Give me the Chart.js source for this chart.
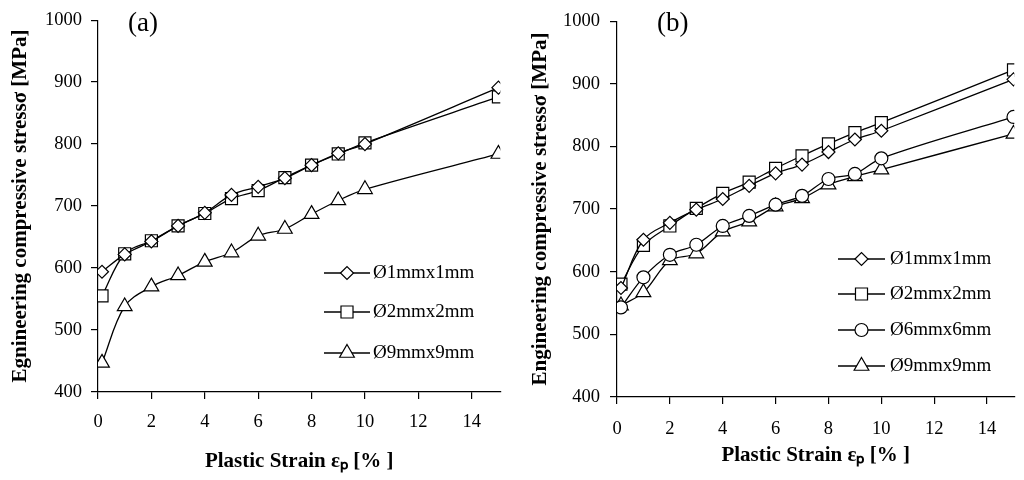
<!DOCTYPE html>
<html>
<head>
<meta charset="utf-8">
<script src="https://cdn.jsdelivr.net/npm/chart.js@4.4.1/dist/chart.umd.min.js"></script>
<style>
  html, body { margin: 0; padding: 0; background: #fff; }
  #wrap { position: relative; width: 1024px; height: 480px; overflow: hidden; }
  .panel { position: absolute; top: 0; height: 480px; }
  #panelA { left: 0; width: 510px; }
  #panelB { left: 510px; width: 514px; }
</style>
</head>
<body>
<div id="wrap">
  <div class="panel" id="panelA"><canvas id="chartA"></canvas></div>
  <div class="panel" id="panelB"><canvas id="chartB"></canvas></div>
</div>
<script>
// plastic strain (%) at which stress was measured
const strainA = [0.15, 1, 2, 3, 4, 5, 6, 7, 8, 9, 10, 15];
const strainB = [0.15, 1, 2, 3, 4, 5, 6, 7, 8, 9, 10, 15];

// (a) stress in MPa
const d1A = [594, 622, 643, 668, 689, 718, 731, 745, 766, 785, 800, 891];
const d2A = [555, 623, 644, 668, 688, 712, 725, 746, 766, 784, 802, 876];
const d9A = [447, 538, 570, 588, 610, 625, 652, 663, 687, 709, 727, 784];

// (b) stress in MPa
const d1B = [574, 651, 678, 699, 716, 737, 757, 771, 791, 811, 825, 907];
const d2B = [580, 642, 673, 701, 725, 743, 765, 785, 804, 822, 838, 922];
const d6B = [543, 591, 627, 643, 673, 689, 707, 721, 748, 756, 781, 847];
const d9B = [546, 567, 618, 629, 664, 680, 704, 717, 739, 752, 763, 820];

const namesA = ['Ø1mmx1mm', 'Ø2mmx2mm', 'Ø9mmx9mm'];
const namesB = ['Ø1mmx1mm', 'Ø2mmx2mm', 'Ø6mmx6mm', 'Ø9mmx9mm'];

const serif = '"Liberation Serif", "Times New Roman", serif';

function series(xs, ys, label, style, radius) {
  return {
    label,
    data: xs.map((x, i) => ({x, y: ys[i]})),
    borderColor: '#000',
    borderWidth: 1.3,
    backgroundColor: '#fff',
    pointStyle: style,
    pointRadius: radius,
    pointBackgroundColor: '#fff',
    pointBorderColor: '#000',
    pointBorderWidth: 1.2,
    tension: 0.35,
  };
}

// panel tag "(a)"/"(b)" and the in-plot legend (line through marker)
const panelDecor = {
  id: 'panelDecor',
  afterDatasetsDraw(chart, args, opts) {
    const ctx = chart.ctx;
    ctx.save();
    ctx.fillStyle = '#000';
    ctx.textBaseline = 'alphabetic';
    ctx.font = '27px ' + serif;
    ctx.fillText(opts.tag, opts.tagX, opts.tagY);
    chart.data.datasets.forEach((ds, i) => {
      const y = opts.rows[i];
      ctx.strokeStyle = '#000';
      ctx.lineWidth = ds.borderWidth;
      ctx.beginPath();
      ctx.moveTo(opts.lineX0, y);
      ctx.lineTo(opts.lineX1, y);
      ctx.stroke();
      ctx.fillStyle = '#fff';
      ctx.lineWidth = ds.pointBorderWidth;
      Chart.helpers.drawPoint(ctx, {
        pointStyle: ds.pointStyle, radius: ds.pointRadius,
        borderWidth: ds.pointBorderWidth, rotation: 0
      }, (opts.lineX0 + opts.lineX1) / 2, y);
      ctx.fillStyle = '#000';
      ctx.font = '19px ' + serif;
      ctx.textBaseline = 'middle';
      ctx.fillText(ds.label, opts.textX, y);
    });
    ctx.restore();
  }
};

function makeChart(id, datasets, o) {
  return new Chart(document.getElementById(id), {
    type: 'line',
    data: { datasets },
    plugins: [panelDecor],
    options: {
      responsive: true,
      maintainAspectRatio: false,
      animation: false,
      layout: { padding: { left: 0, top: 16, right: o.padR, bottom: 0 } },
      plugins: {
        legend: { display: false },
        tooltip: { enabled: false },
        panelDecor: o.decor,
      },
      scales: {
        x: {
          type: 'linear',
          min: 0,
          max: o.xMax,
          afterFit: s => { s.height = o.xH; },
          ticks: {
            stepSize: 2, includeBounds: false, maxRotation: 0,
            color: '#000', padding: o.xTickPad,
            font: { family: serif, size: 18.5 },
            callback: v => String(v),
          },
          grid: { drawOnChartArea: false, tickLength: 7, color: '#000', lineWidth: 1.2 },
          border: { color: '#000', width: 1.2 },
          title: {
            display: true, text: 'Plastic Strain εₚ [% ]', color: '#000',
            font: { family: serif, size: 21, weight: 'bold' },
            padding: { top: 0, bottom: o.xTitlePad },
          },
        },
        y: {
          min: 400,
          max: 1000,
          afterFit: s => { s.width = o.yW; },
          ticks: {
            stepSize: 100, color: '#000', padding: o.yTickPad,
            font: { family: serif, size: 18.5 },
            callback: v => String(v),
          },
          grid: { drawOnChartArea: false, tickLength: 7, color: '#000', lineWidth: 1.2 },
          border: { color: '#000', width: 1.2 },
          title: {
            display: true, text: o.yTitle, color: '#000',
            font: { family: serif, size: 21, weight: 'bold' },
            padding: { top: o.yTitlePad, bottom: 0 },
          },
        },
      },
    },
  });
}

makeChart('chartA', [
  series(strainA, d1A, namesA[0], 'rectRot', 6.5),
  series(strainA, d2A, namesA[1], 'rect', 8.5),
  series(strainA, d9A, namesA[2], 'triangle', 8.5),
], {
  xMax: 15.07, xH: 88, yW: 98, padR: 7,
  xTickPad: 12, yTickPad: 9, xTitlePad: 6, yTitlePad: 8,
  yTitle: 'Egnineering compressive stressσ [MPa]',
  decor: { tag: '(a)', tagX: 128, tagY: 31, rows: [273, 312, 353], lineX0: 324, lineX1: 370, textX: 373 },
});

makeChart('chartB', [
  series(strainB, d1B, namesB[0], 'rectRot', 6.5),
  series(strainB, d2B, namesB[1], 'rect', 8.5),
  series(strainB, d6B, namesB[2], 'circle', 6.5),
  series(strainB, d9B, namesB[3], 'triangle', 8.5),
], {
  xMax: 15.03, xH: 83, yW: 107, padR: 0.5,
  xTickPad: 14, yTickPad: 10, xTitlePad: 12, yTitlePad: 18,
  yTitle: 'Engineering compressive stressσ [MPa]',
  decor: { tag: '(b)', tagX: 147, tagY: 31, rows: [259, 294, 330, 366], lineX0: 328, lineX1: 375, textX: 380 },
});
</script>
</body>
</html>
